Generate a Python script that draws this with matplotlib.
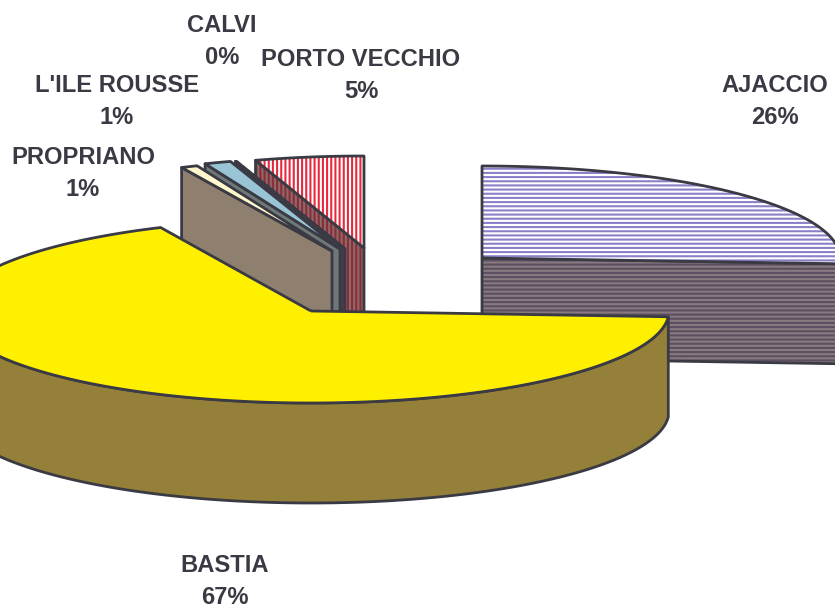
import numpy as np
import matplotlib
matplotlib.use("Agg")
import matplotlib.pyplot as plt

# Data (clockwise from 12 o'clock)
names = ["AJACCIO", "BASTIA", "PROPRIANO", "L'ILE ROUSSE", "CALVI", "PORTO VECCHIO"]
values = [26.0, 67.1, 0.75, 1.2, 0.05, 4.9]

# Where each exploded slice apex sits, in image pixels
apex_x = [482, 311, 332, 340, 345, 364]
apex_y = [258, 311, 251, 249, 249, 248]

# Label centres
label_x = [775, 225, 83, 117, 222, 361]
label_y = [102, 582, 174, 102, 41, 75]

# Styles
top_face = ["white", "#fff000", "#fff8cc", "#99c4d6", "#8aa0b0", "white"]
top_hatch = ["#8a80c8", "#fff000", "#fff8cc", "#99c4d6", "#8aa0b0", "#e8283c"]
side_face = ["#887a80", "#948038", "#8f7f6e", "#6e7878", "#4c3a4c", "#8c6a68"]
side_hatch = ["#5c5060", "#948038", "#8f7f6e", "#6e7878", "#4c3a4c", "#8a2c3a"]
hatches = ["----", None, None, None, None, "||||"]

RX = 358
RY = 92
DEPTH = 100
LINE = "#3a3a44"
LW = 2.0

plt.rcParams["hatch.linewidth"] = 1.5
plt.rcParams["font.family"] = ["Liberation Sans", "DejaVu Sans"]

fig = plt.figure(figsize=(8.35, 6.1), dpi=100)
ax = fig.add_axes([0, 0, 1, 1])
ax.set_xlim(0, 835)
ax.set_ylim(610, 0)
ax.axis("off")


def rim(i, t):
    return apex_x[i] + RX * np.cos(t), apex_y[i] - RY * np.sin(t)


def face(xs, ys, fc, hc, hatch):
    ax.fill(xs, ys, facecolor=fc, edgecolor=hc, hatch=hatch, linewidth=0)
    ax.fill(xs, ys, fill=False, edgecolor=LINE, linewidth=LW, joinstyle="round")


def radial_wall(i, t):
    rx, ry = rim(i, t)
    xs = [apex_x[i], rx, rx, apex_x[i]]
    ys = [apex_y[i], ry, ry + DEPTH, apex_y[i] + DEPTH]
    face(xs, ys, side_face[i], side_hatch[i], hatches[i])


# Slice angles from the values
sweeps = np.array(values) / sum(values) * 2 * np.pi
ends = np.pi / 2 - np.cumsum(sweeps)
starts = ends + sweeps

# Back slices first, Bastia last
for i in [5, 4, 3, 2, 0, 1]:
    t0, t1 = starts[i], ends[i]

    # Radial walls that face the viewer
    if np.cos(t0) < -1e-6:
        radial_wall(i, t0)
    if np.cos(t1) > 1e-6:
        radial_wall(i, t1)

    # Outer wall, only the front half of the rim shows
    lo = max(t1, -np.pi)
    hi = min(t0, 0)
    if hi > lo:
        t = np.linspace(hi, lo, 200)
        rx, ry = rim(i, t)
        xs = np.concatenate([rx, rx[::-1]])
        ys = np.concatenate([ry, ry[::-1] + DEPTH])
        face(xs, ys, side_face[i], side_hatch[i], hatches[i])

    # Top surface
    t = np.linspace(t0, t1, 200)
    rx, ry = rim(i, t)
    xs = np.concatenate([[apex_x[i]], rx])
    ys = np.concatenate([[apex_y[i]], ry])
    face(xs, ys, top_face[i], top_hatch[i], hatches[i])

# Labels
for i in range(len(names)):
    ax.text(label_x[i], label_y[i], f"{names[i]}\n{values[i]:.0f}%",
            ha="center", va="center", fontsize=17.1, fontweight="bold",
            color="#3a3a44", linespacing=1.5)

fig.savefig("out.png", dpi=100)
